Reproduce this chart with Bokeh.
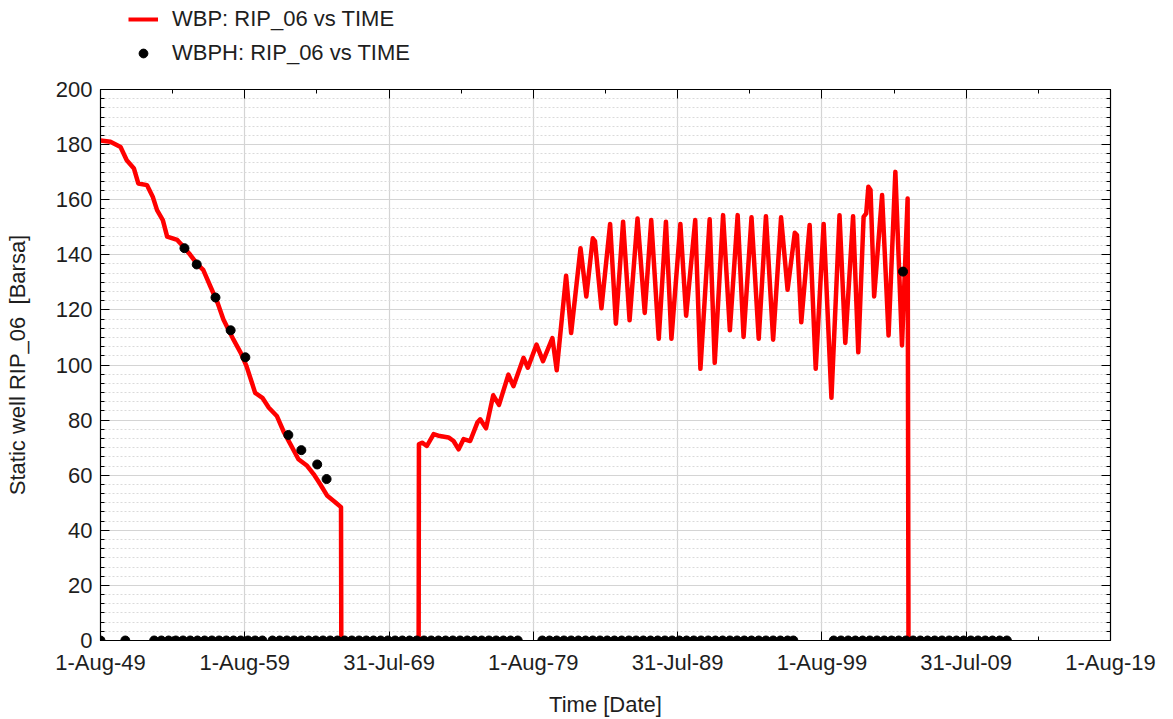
from datetime import date

from bokeh.embed import file_html
from bokeh.layouts import column
from bokeh.models import (FixedTicker, Legend, LegendItem, LinearAxis, Range1d,
                          SingleIntervalTicker)
from bokeh.plotting import figure
from bokeh.resources import INLINE

# ---- data -------------------------------------------------------------
# axis tick dates and their printed labels
tick_dates = ["1949-08-01", "1959-08-01", "1969-07-31", "1979-08-01",
              "1989-07-31", "1999-08-01", "2009-07-31", "2019-08-01"]
tick_labels = ["1-Aug-49", "1-Aug-59", "31-Jul-69", "1-Aug-79",
               "31-Jul-89", "1-Aug-99", "31-Jul-09", "1-Aug-19"]
y_ticks = [0, 20, 40, 60, 80, 100, 120, 140, 160, 180, 200]

# WBP: simulated static well pressure (fractional year, Barsa)
wbp_year = [1949.58, 1950.27, 1950.97, 1951.40, 1951.90, 1952.20, 1952.80, 1953.20,
            1953.50, 1953.90, 1954.20, 1954.90, 1955.35, 1955.80, 1956.30, 1956.70,
            1957.20, 1957.70, 1958.10, 1958.80, 1959.30, 1959.70, 1960.30, 1960.80,
            1961.25, 1961.80, 1962.30, 1962.75, 1963.30, 1963.90, 1964.35, 1964.80,
            1965.30, 1965.85, 1966.25, 1966.27, 1971.63, 1971.65, 1971.87, 1972.20,
            1972.67, 1973.10, 1973.70, 1974.05, 1974.40, 1974.75, 1975.20, 1975.70,
            1975.90, 1976.30, 1976.80, 1977.20, 1977.85, 1978.20, 1978.90, 1979.20,
            1979.80, 1980.25, 1980.90, 1981.20, 1981.85, 1982.20, 1982.85, 1983.25,
            1983.70, 1983.85, 1984.30, 1984.90, 1985.30, 1985.80, 1986.25, 1986.80,
            1987.30, 1987.75, 1988.27, 1988.77, 1989.15, 1989.77, 1990.17, 1990.80,
            1991.16, 1991.80, 1992.15, 1992.73, 1993.20, 1993.74, 1994.15, 1994.70,
            1995.20, 1995.70, 1996.20, 1996.75, 1997.20, 1997.70, 1997.85, 1998.15,
            1998.73, 1999.15, 1999.70, 2000.24, 2000.80, 2001.20, 2001.74, 2002.10,
            2002.47, 2002.65, 2002.80, 2002.95, 2003.20, 2003.75, 2004.20, 2004.67,
            2005.13, 2005.52, 2005.58, 2012.40]
wbp_bar = [181.5, 181.0, 179.1, 174.3, 171.3, 165.9, 165.3, 161.1,
           156.2, 152.6, 146.6, 145.4, 142.8, 140.0, 136.5, 134.5,
           128.5, 122.5, 116.5, 109.2, 104.4, 99.6, 89.9, 88.1,
           84.5, 81.5, 75.5, 71.2, 65.8, 63.4, 60.4, 56.8,
           52.5, 50.2, 48.4, 0.0, 0.0, 71.2, 71.8, 70.6,
           74.9, 74.2, 73.7, 72.4, 69.4, 73.1, 72.4, 79.1,
           80.3, 77.0, 89.0, 85.5, 96.5, 92.3, 102.6, 99.0,
           107.4, 101.4, 109.8, 98.1, 132.4, 111.6, 142.4, 124.9,
           146.0, 145.0, 120.6, 151.2, 115.0, 152.0, 116.2, 153.2,
           118.9, 152.6, 109.5, 152.0, 109.5, 151.2, 117.9, 152.6,
           98.6, 152.9, 100.8, 154.4, 112.6, 154.4, 110.2, 153.6,
           109.5, 154.0, 109.2, 153.6, 127.3, 148.0, 147.2, 115.5,
           150.8, 98.6, 151.2, 88.1, 154.4, 108.0, 154.0, 104.6,
           153.8, 155.0, 164.7, 163.5, 124.9, 161.7, 110.7, 170.1,
           107.1, 160.4, 0.0, 0.0]

# WBPH: measured static well pressure (fractional year, Barsa)
wbph_year = [1955.40, 1956.25, 1957.55, 1958.60, 1959.62, 1962.60, 1963.50,
             1964.60, 1965.25, 2005.20,
             1949.58, 1951.30,
             1953.3, 1953.8, 1954.3, 1954.8, 1955.3, 1955.8, 1956.3, 1956.8,
             1957.3, 1957.8, 1958.3, 1958.8, 1959.3, 1959.8, 1960.3, 1960.8,
             1961.5, 1962.0, 1962.5, 1963.0, 1963.5, 1964.0, 1964.5, 1965.0,
             1965.5, 1966.0, 1966.5, 1967.0, 1967.5, 1968.0, 1968.5, 1969.0,
             1969.5, 1970.0, 1970.5, 1971.0, 1971.5, 1972.0, 1972.5, 1973.0,
             1973.5, 1974.0, 1974.5, 1975.0, 1975.5, 1976.0, 1976.5, 1977.0,
             1977.5, 1978.0, 1978.5,
             1980.2, 1980.7, 1981.2, 1981.7, 1982.2, 1982.7, 1983.2, 1983.7,
             1984.2, 1984.7, 1985.2, 1985.7, 1986.2, 1986.7, 1987.2, 1987.7,
             1988.2, 1988.7, 1989.2, 1989.7, 1990.2, 1990.7, 1991.2, 1991.7,
             1992.2, 1992.7, 1993.2, 1993.7, 1994.2, 1994.7, 1995.2, 1995.7,
             1996.2, 1996.7, 1997.2, 1997.6,
             2000.4, 2000.9, 2001.4, 2001.9, 2002.4, 2002.9, 2003.4, 2003.9,
             2004.4, 2004.9, 2005.4, 2005.9, 2006.4, 2006.9, 2007.4, 2007.9,
             2008.4, 2008.9, 2009.4, 2009.9, 2010.4, 2010.9, 2011.4, 2011.9,
             2012.4]
wbph_bar = [142.4, 136.5, 124.5, 112.6, 102.8, 74.6, 69.1, 63.9, 58.6, 133.9] + \
           [0.0] * 119


def frac_year(iso):
    """Convert an ISO date string to a fractional year."""
    d = date.fromisoformat(iso)
    start = date(d.year, 1, 1)
    span = (date(d.year + 1, 1, 1) - start).days
    return d.year + (d - start).days / span


x_ticks = [frac_year(s) for s in tick_dates]
x_minor = [(a + b) / 2 for a, b in zip(x_ticks[:-1], x_ticks[1:])]

FONT = "Liberation Sans"
TEXT = "#1e1e1e"
RED = "#ff0000"
W = 1173
LEGEND_H = 70

# ---- main chart ---------------------------------------------------------
p = figure(width=W, height=719 - LEGEND_H, output_backend="svg",
           toolbar_location=None,
           x_range=Range1d(x_ticks[0], x_ticks[-1]), y_range=Range1d(0, 200),
           min_border_left=100, min_border_right=63, min_border_top=19,
           min_border_bottom=77)
p.background_fill_color = "white"
p.border_fill_color = "white"
p.outline_line_color = "black"
p.outline_line_width = 1.2

xticker = FixedTicker(ticks=x_ticks, minor_ticks=x_minor)
yticker = SingleIntervalTicker(interval=20, num_minor_ticks=6)

bottom_axis = p.below[0]
left_axis = p.left[0]
bottom_axis.ticker = xticker
bottom_axis.major_label_overrides = {t: lab for t, lab in zip(x_ticks, tick_labels)}
left_axis.ticker = yticker

# extra axes carrying inward ticks on the top and right edges of the frame
top_axis = LinearAxis(ticker=xticker,
                      major_label_overrides={t: "" for t in x_ticks})
right_axis = LinearAxis(ticker=yticker,
                        major_label_overrides={t: "" for t in y_ticks})
p.add_layout(top_axis, "above")
p.add_layout(right_axis, "right")

for ax in (bottom_axis, left_axis, top_axis, right_axis):
    ax.axis_line_color = "black"
    ax.major_tick_line_color = "black"
    ax.minor_tick_line_color = "black"
    ax.major_tick_in = 9
    ax.major_tick_out = 0
    ax.minor_tick_in = 4
    ax.minor_tick_out = 0
    ax.major_label_text_font = FONT
    ax.major_label_text_color = TEXT
    ax.major_label_text_font_size = "22px"
    ax.axis_label_text_font = FONT
    ax.axis_label_text_color = TEXT
    ax.axis_label_text_font_style = "normal"

top_axis.major_label_standoff = 0
right_axis.major_label_standoff = 0

bottom_axis.axis_label = "Time [Date]"
bottom_axis.axis_label_text_font_size = "22px"
bottom_axis.major_label_standoff = 9
bottom_axis.axis_label_standoff = 14
left_axis.axis_label = "Static well RIP_06\u00a0 [Barsa]"
left_axis.axis_label_text_font_size = "22px"
left_axis.major_label_standoff = 8
left_axis.axis_label_standoff = 23

p.xgrid.grid_line_color = "#d4d4d4"
p.xgrid.grid_line_width = 1.2
p.ygrid.grid_line_color = "#d4d4d4"
p.ygrid.grid_line_width = 1.2
p.ygrid.minor_grid_line_color = "#dadada"
p.ygrid.minor_grid_line_dash = "2 2"

p.line(wbp_year, wbp_bar, line_color=RED, line_width=4.5, line_join="round")
p.scatter(wbph_year, wbph_bar, size=9, fill_color="black", line_color="black")

# ---- legend strip above the chart --------------------------------------
# the key renderers reuse the series, but this strip's ranges keep them
# out of view so only their legend swatches show
lg = figure(width=W, height=LEGEND_H, output_backend="svg", toolbar_location=None,
            x_range=Range1d(0, 1), y_range=Range1d(-1, 0), min_border=0)
lg.axis.visible = False
lg.grid.visible = False
lg.outline_line_color = None
lg.background_fill_color = "white"
lg.border_fill_color = "white"
key_line = lg.line(wbp_year, wbp_bar, line_color=RED, line_width=4)
key_dot = lg.scatter(wbph_year, wbph_bar, size=9, fill_color="black",
                     line_color="black")

legend = Legend(items=[LegendItem(label="WBP: RIP_06 vs TIME", renderers=[key_line]),
                       LegendItem(label="WBPH: RIP_06 vs TIME", renderers=[key_dot])],
                location=(28, 4), margin=0, padding=6, spacing=8,
                glyph_width=30, glyph_height=22, label_standoff=14,
                label_text_font=FONT, label_text_font_size="22px",
                label_text_color=TEXT, border_line_color=None,
                background_fill_alpha=0)
lg.add_layout(legend, "center")

open("out.html", "w").write(file_html(column(lg, p, spacing=0), INLINE))
